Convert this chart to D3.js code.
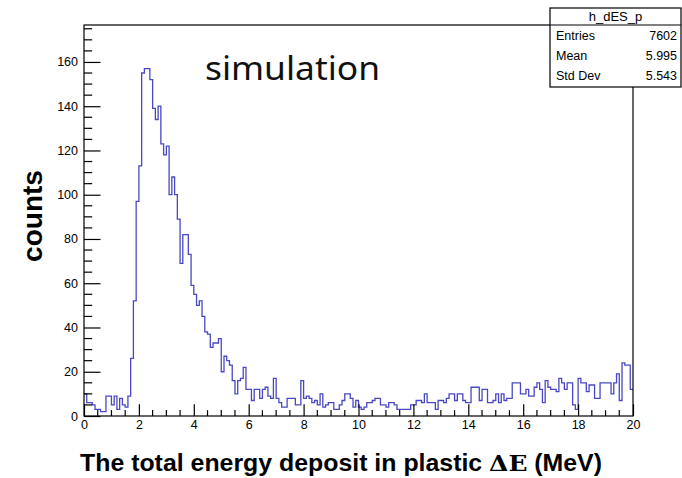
<!DOCTYPE html>
<html><head><meta charset="utf-8">
<script src="https://cdn.jsdelivr.net/npm/d3@7"></script>
<style>
html,body{margin:0;padding:0;background:#fff;}
svg{display:block;}
</style></head>
<body>
<script>
// ---- data ----
const binLow = 0, binHigh = 20;
const counts = [
 10,6,6,5,3,3,2,2,9,9, 5,9,3,8,5,4,9,26,52,97,
 113,155,157,157,152,139,134,140,123,118, 122,100,108,100,89,69,82,82,73,59,
 55,50,52,45,38,37,31,33,33,35, 20,27,25,23,16,10,16,17,22,12,
 12,7,12,12,8,12,13,9,8,17, 8,6,4,4,8,8,8,5,5,16,
 8,9,8,6,7,5,10,4,5,6, 6,3,3,5,7,10,10,8,4,7,
 4,3,4,6,6,7,8,8,5,5, 4,6,6,5,3,3,3,3,3,5,
 5,7,7,6,10,6,6,6,3,7, 7,6,8,10,10,7,10,10,7,6,
 6,13,13,13,7,12,12,6,6,7, 10,6,10,7,8,8,15,15,15,10,
 10,12,9,9,13,15,12,6,16,13, 12,12,11,17,15,12,15,15,5,3,
 17,15,15,11,14,14,8,8,15,15, 15,15,10,15,19,7,24,23,23,12
];
const xTicks = [0,2,4,6,8,10,12,14,16,18,20];
const yTicks = [0,20,40,60,80,100,120,140,160];
const statsTitle = "h_dES_p";
const statsRows = [["Entries","7602"],["Mean","5.995"],["Std Dev","5.543"]];
const yMax = 176.7;

// ---- layout ----
const W = 682, H = 478;
const L = 84, R = 633, T = 25, B = 416;
const svg = d3.select("body").append("svg").attr("width", W).attr("height", H);

const x = d3.scaleLinear().domain([binLow, binHigh]).range([L, R]);
const y = d3.scaleLinear().domain([0, yMax]).range([B, T]);
const nb = counts.length;
const bw = (binHigh - binLow) / nb;

// histogram step line
const pts = counts.map((c, i) => [binLow + i * bw, c]);
pts.push([binHigh, counts[nb - 1]]);
const line = d3.line().x(d => x(d[0])).y(d => y(d[1])).curve(d3.curveStepAfter);
svg.append("path").datum(pts)
  .attr("d", line)
  .attr("fill", "none")
  .attr("stroke", "#4848c4")
  .attr("stroke-width", 1.3);

// frame
svg.append("rect").attr("x", L).attr("y", T).attr("width", R - L).attr("height", B - T)
  .attr("fill", "none").attr("stroke", "#000").attr("stroke-width", 1.2);

const tickFont = "'Liberation Sans', Arial, Helvetica, sans-serif";

// x axis
const xAxis = d3.axisBottom(x).tickValues(xTicks).tickSize(-11.7).tickPadding(5)
  .tickFormat(d3.format("d"));
const gx = svg.append("g").attr("transform", `translate(0,${B})`).call(xAxis);
gx.select(".domain").remove();
gx.selectAll(".tick line").attr("stroke", "#000").attr("stroke-width", 1.2);
gx.selectAll(".tick text").attr("font-family", tickFont).attr("font-size", 12.5).attr("fill", "#000")
  .attr("dy", "0.3em").attr("y", 9);
// x minor ticks
const xMinor = d3.range(0, 81).map(i => i * 0.25).filter(v => v % 2 !== 0 && Number.isInteger(v * 2));
svg.append("g").selectAll("line").data(xMinor).join("line")
  .attr("x1", d => x(d)).attr("x2", d => x(d)).attr("y1", B).attr("y2", B - 5.9)
  .attr("stroke", "#000").attr("stroke-width", 1.2);

// y axis
const yAxis = d3.axisLeft(y).tickValues(yTicks).tickSize(-16.5).tickPadding(5)
  .tickFormat(d3.format("d"));
const gy = svg.append("g").attr("transform", `translate(${L},0)`).call(yAxis);
gy.select(".domain").remove();
gy.selectAll(".tick line").attr("stroke", "#000").attr("stroke-width", 1.2);
gy.selectAll(".tick text").attr("font-family", tickFont).attr("font-size", 12.5).attr("fill", "#000")
  .attr("x", -6);
const yMinor = d3.range(0, 36).map(i => i * 5).filter(v => v % 20 !== 0 && v < yMax);
svg.append("g").selectAll("line").data(yMinor).join("line")
  .attr("x1", L).attr("x2", L + 8.2).attr("y1", d => y(d)).attr("y2", d => y(d))
  .attr("stroke", "#000").attr("stroke-width", 1.2);

// "simulation" label
svg.append("text").attr("x", 205).attr("y", 80)
  .attr("font-family", "'Noto Sans', 'Open Sans', sans-serif").attr("font-size", 33)
  .attr("textLength", 175).attr("lengthAdjust", "spacingAndGlyphs")
  .attr("fill", "#111").text("simulation");

// y title
svg.append("text").attr("transform", "translate(42,216) rotate(-90)")
  .attr("text-anchor", "middle")
  .attr("font-family", "'Liberation Sans', Arial, sans-serif").attr("font-weight", "bold")
  .attr("font-size", 28).attr("fill", "#000").text("counts");

// x title
const xt = svg.append("text").attr("x", 80).attr("y", 471)
  .attr("font-family", "'Liberation Sans', Arial, sans-serif").attr("font-weight", "bold")
  .attr("font-size", 23).attr("fill", "#000")
  .attr("textLength", 522).attr("lengthAdjust", "spacingAndGlyphs");
xt.append("tspan").text("The total energy deposit in plastic ");
xt.append("tspan").attr("font-family", "'DejaVu Serif', 'Liberation Serif', serif").text("ΔE");
xt.append("tspan").text(" (MeV)");

// stats box
const sbL = 550, sbR = 681, sbT = 8, sbB = 87, sbSep = 25;
svg.append("rect").attr("x", sbL).attr("y", sbT).attr("width", sbR - sbL).attr("height", sbB - sbT)
  .attr("fill", "#fff").attr("stroke", "#000").attr("stroke-width", 1.2);
svg.append("line").attr("x1", sbL).attr("x2", sbR).attr("y1", sbSep).attr("y2", sbSep)
  .attr("stroke", "#000").attr("stroke-width", 1.2);
svg.append("text").attr("x", (sbL + sbR) / 2).attr("y", 21).attr("text-anchor", "middle")
  .attr("font-family", tickFont).attr("font-size", 13).text(statsTitle);
const rowY = [40, 60, 80];
statsRows.forEach((r, i) => {
  svg.append("text").attr("x", sbL + 6).attr("y", rowY[i]).attr("font-family", tickFont)
    .attr("font-size", 12.5).text(r[0]);
  svg.append("text").attr("x", sbR - 4).attr("y", rowY[i]).attr("text-anchor", "end")
    .attr("font-family", tickFont).attr("font-size", 12.5).text(r[1]);
});
</script>
</body></html>
